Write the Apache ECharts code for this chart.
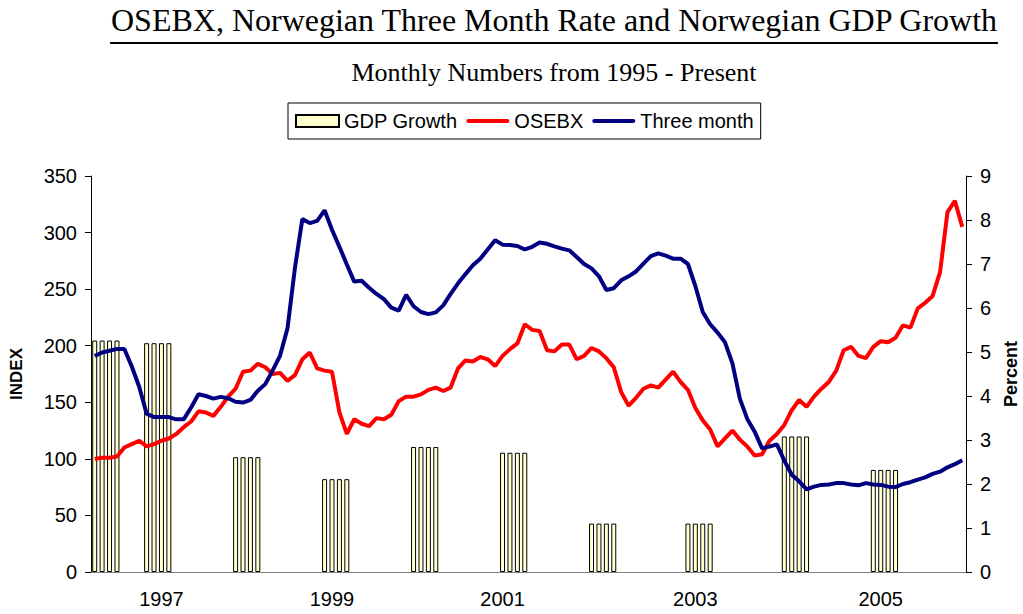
<!DOCTYPE html>
<html>
<head>
<meta charset="utf-8">
<style>
  html, body { margin: 0; padding: 0; background: #fff; }
  #chart { width: 1023px; height: 614px; }
</style>
<script src="https://cdn.jsdelivr.net/npm/echarts@6/dist/echarts.min.js"></script>
</head>
<body>
<div id="chart"></div>
<script>
// months on the x axis, starting April 1996
const months = [];
for (let i = 0; i < 118; i++) {
  const m = (3 + i) % 12, y = 1996 + Math.floor((3 + i) / 12);
  months.push(y + "-" + String(m + 1).padStart(2, "0"));
}

// where the year labels sit (category index) and their text
const tickIndex = [9, 32, 55, 81, 106];
const tickLabels = ["1997", "1999", "2001", "2003", "2005"];

// OSEBX index, left axis
const osebx = [
  100, 101, 101, 102, 110, 113, 116, 111, 113, 116, 118, 122,
  128, 133, 142, 141, 138, 146, 155, 162, 177, 178, 184, 181,
  175, 176, 169, 174, 188, 194, 180, 178, 177, 141, 122, 135,
  131, 129, 136, 135, 139, 151, 155, 155, 157, 161, 163, 160,
  163, 180, 187, 186, 190, 188, 182, 191, 197, 202, 219, 214,
  213, 196, 195, 201, 201, 188, 191, 198, 195, 189, 181, 159,
  147, 154, 162, 165, 163, 170, 177, 168, 161, 145, 134, 126,
  111, 118, 125, 117, 111, 103, 104, 116, 122, 130, 143, 152,
  146, 155, 162, 168, 178, 196, 199, 191, 189, 199, 204, 203,
  207, 218, 216, 233, 238, 244, 265, 318, 328, 305
];

// three month rate, percent, right axis
const threeMonth = [
  4.91, 4.99, 5.03, 5.07, 5.07, 4.67, 4.21, 3.60, 3.52, 3.52, 3.52, 3.47,
  3.47, 3.74, 4.04, 4.00, 3.94, 3.98, 3.95, 3.87, 3.85, 3.91, 4.12, 4.27,
  4.58, 4.92, 5.54, 6.91, 8.02, 7.93, 7.98, 8.22, 7.78, 7.39, 6.99, 6.60,
  6.62, 6.46, 6.32, 6.20, 6.01, 5.94, 6.30, 6.04, 5.91, 5.86, 5.90, 6.06,
  6.32, 6.56, 6.77, 6.97, 7.12, 7.33, 7.54, 7.44, 7.43, 7.41, 7.33, 7.39,
  7.49, 7.46, 7.40, 7.35, 7.31, 7.16, 7.00, 6.90, 6.72, 6.41, 6.45, 6.63,
  6.72, 6.83, 7.01, 7.18, 7.24, 7.19, 7.12, 7.12, 7.00, 6.50, 5.91, 5.63,
  5.44, 5.22, 4.74, 3.94, 3.48, 3.19, 2.81, 2.85, 2.90, 2.53, 2.21, 2.06,
  1.88, 1.94, 1.98, 1.99, 2.02, 2.02, 1.99, 1.97, 2.02, 1.99, 1.98, 1.94,
  1.93, 2.00, 2.04, 2.10, 2.15, 2.23, 2.28, 2.38, 2.45, 2.54
];

// GDP growth, percent: each yearly figure is drawn as four monthly bars
const gdpStart = [0, 7, 19, 31, 43, 55, 67, 80, 93, 105];
const gdpGrowth = [5.26, 5.20, 2.61, 2.11, 2.84, 2.71, 1.10, 1.10, 3.08, 2.32];

const gdpBars = months.map(() => null);
gdpStart.forEach((s, j) => {
  for (let k = 0; k < 4; k++) gdpBars[s + k] = gdpGrowth[j];
});

const sans = '"Liberation Sans", Arial, sans-serif';
const serif = '"Liberation Serif", "Times New Roman", serif';
const titleText = "OSEBX, Norwegian Three Month Rate and Norwegian GDP Growth";
const titleFont = "32px " + serif;

// width of the title, for the underline
const ctx = document.createElement("canvas").getContext("2d");
ctx.font = titleFont;
const titleW = ctx.measureText(titleText).width;
const titleX = 554;

// thin bar used as legend icon for the two lines
const lineIcon = "path://M2,0 L41,0 A2,2 0 0 1 41,4 L2,4 A2,2 0 0 1 2,0 Z";

const chart = echarts.init(document.getElementById("chart"), null, { renderer: "svg" });

const option = {
  backgroundColor: "#fff",
  animation: false,
  textStyle: { fontFamily: sans, color: "#000" },
  graphic: [
    {
      type: "text",
      x: titleX, y: 20,
      style: { text: titleText, font: titleFont, fill: "#000", textAlign: "center", textVerticalAlign: "middle" }
    },
    {
      type: "line",
      shape: { x1: titleX - titleW / 2, y1: 43, x2: titleX + titleW / 2, y2: 43 },
      style: { stroke: "#000", lineWidth: 2 }
    },
    {
      type: "text",
      x: titleX, y: 72,
      style: { text: "Monthly Numbers from 1995 - Present", font: "26px " + serif, fill: "#000", textAlign: "center", textVerticalAlign: "middle" }
    }
  ],
  legend: {
    left: 288,
    top: 103,
    padding: [8, 7, 8, 7],
    borderColor: "#000",
    borderWidth: 1,
    itemWidth: 43,
    itemHeight: 12,
    itemGap: 9,
    textStyle: { fontSize: 20, fontFamily: sans, color: "#000" },
    data: [
      { name: "GDP Growth", icon: "rect" },
      { name: "OSEBX", icon: lineIcon },
      { name: "Three month", icon: lineIcon }
    ]
  },
  grid: { left: 91, right: 57, top: 176, bottom: 42, containLabel: false, outerBoundsMode: "none" },
  xAxis: {
    type: "category",
    data: months,
    boundaryGap: true,
    axisLine: { lineStyle: { color: "#808080", width: 1 } },
    axisTick: { show: false },
    axisLabel: {
      interval: (i) => tickIndex.includes(i),
      formatter: (v, i) => tickLabels[tickIndex.indexOf(i)],
      fontSize: 20,
      color: "#000",
      margin: 17
    },
    splitLine: { show: false }
  },
  yAxis: [
    {
      type: "value",
      min: 0, max: 350, interval: 50,
      name: "INDEX",
      nameLocation: "middle",
      nameRotate: 90,
      nameGap: 66,
      nameTextStyle: { fontSize: 17, fontWeight: "bold", color: "#000" },
      axisLine: { show: true, lineStyle: { color: "#000", width: 1 } },
      axisTick: { show: true, length: 6, lineStyle: { color: "#000" } },
      axisLabel: { fontSize: 20, color: "#000", margin: 14 },
      splitLine: { show: false }
    },
    {
      type: "value",
      position: "right",
      min: 0, max: 9, interval: 1,
      name: "Percent",
      nameLocation: "middle",
      nameRotate: 90,
      nameGap: 36,
      nameTextStyle: { fontSize: 18, fontWeight: "bold", color: "#000" },
      axisLine: { show: true, lineStyle: { color: "#000", width: 1 } },
      axisTick: { show: true, length: 6, lineStyle: { color: "#000" } },
      axisLabel: { fontSize: 20, color: "#000", margin: 14 },
      splitLine: { show: false }
    }
  ],
  series: [
    {
      name: "GDP Growth",
      type: "bar",
      yAxisIndex: 1,
      data: gdpBars,
      barWidth: 5,
      itemStyle: { color: "#FFFFCC", borderColor: "#000", borderWidth: 1 }
    },
    {
      name: "OSEBX",
      type: "line",
      yAxisIndex: 0,
      data: osebx,
      symbol: "none",
      lineStyle: { color: "#FF0000", width: 4 },
      itemStyle: { color: "#FF0000" }
    },
    {
      name: "Three month",
      type: "line",
      yAxisIndex: 1,
      data: threeMonth,
      symbol: "none",
      lineStyle: { color: "#000080", width: 4 },
      itemStyle: { color: "#000080" }
    }
  ]
};

chart.setOption(option);
</script>
</body>
</html>
